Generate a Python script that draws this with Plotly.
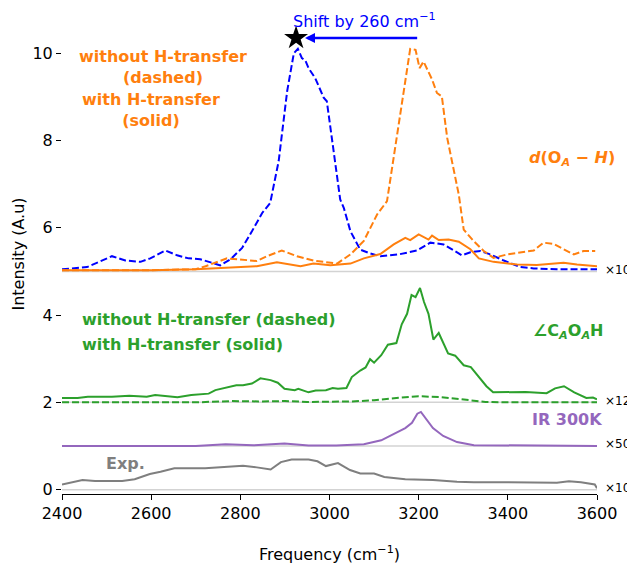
import plotly.graph_objects as go

# ---------------- data ----------------
# d(O_A - H), without H-transfer (blue dashed, shifted)
blue_freq = [2400, 2456, 2512, 2542, 2576, 2598, 2632, 2658, 2684, 2710, 2736, 2755, 2778, 2804, 2826,
             2849, 2867, 2886, 2905, 2920, 2929, 2938, 2946, 2953, 2968, 2987, 2994, 3002, 3013, 3024,
             3032, 3047, 3069, 3092, 3114, 3155, 3196, 3226, 3256, 3279, 3297, 3316, 3338, 3361, 3391,
             3428, 3458, 3510, 3600]
blue_int = [5.05, 5.10, 5.35, 5.25, 5.22, 5.30, 5.48, 5.37, 5.30, 5.28, 5.20, 5.14, 5.28, 5.54, 5.92,
            6.34, 6.57, 7.53, 9.13, 10.0, 10.1, 9.89, 9.83, 9.66, 9.43, 8.98, 8.90, 8.29, 7.50, 6.65,
            6.46, 5.92, 5.50, 5.41, 5.35, 5.39, 5.48, 5.66, 5.62, 5.48, 5.37, 5.44, 5.47, 5.39, 5.25,
            5.10, 5.07, 5.05, 5.05]

# d(O_A - H), without H-transfer (orange dashed)
orange_dash_freq = [2400, 2500, 2600, 2700, 2722, 2770, 2837, 2860, 2893, 2927, 2964, 3017, 3047, 3077,
                    3107, 3129, 3151, 3170, 3181, 3193, 3202, 3211, 3230, 3241, 3252, 3264, 3279, 3290,
                    3301, 3323, 3346, 3368, 3398, 3428, 3458, 3480, 3503, 3525, 3548, 3570, 3596]
orange_dash_int = [5.03, 5.03, 5.03, 5.05, 5.12, 5.30, 5.24, 5.35, 5.48, 5.35, 5.25, 5.18, 5.39, 5.70,
                   6.31, 6.61, 8.06, 9.36, 10.1, 10.08, 9.66, 9.81, 9.40, 9.09, 9.01, 8.06, 7.30, 6.76,
                   5.96, 5.70, 5.47, 5.31, 5.39, 5.43, 5.48, 5.66, 5.63, 5.51, 5.39, 5.47, 5.47]

# d(O_A - H), with H-transfer (orange solid)
orange_solid_freq = [2400, 2500, 2600, 2700, 2770, 2837, 2882, 2935, 2964, 3002, 3047, 3077, 3114, 3144,
                     3170, 3181, 3200, 3222, 3230, 3245, 3267, 3290, 3316, 3335, 3368, 3421, 3465, 3525,
                     3555, 3600]
orange_solid_int = [5.03, 5.03, 5.03, 5.05, 5.09, 5.12, 5.21, 5.12, 5.18, 5.14, 5.18, 5.30, 5.40, 5.62,
                    5.77, 5.72, 5.85, 5.73, 5.82, 5.72, 5.73, 5.68, 5.51, 5.30, 5.22, 5.16, 5.15, 5.20,
                    5.16, 5.12]

# angle C_A O_A H, with H-transfer (green solid)
green_solid_freq = [2400, 2435, 2458, 2512, 2551, 2590, 2609, 2659, 2690, 2729, 2744, 2768, 2791, 2806,
                    2826, 2845, 2868, 2884, 2899, 2922, 2930, 2953, 2969, 2992, 3007, 3019, 3038, 3050,
                    3069, 3081, 3091, 3100, 3116, 3131, 3150, 3162, 3174, 3184, 3193, 3203, 3212, 3222,
                    3233, 3245, 3255, 3266, 3282, 3301, 3317, 3336, 3352, 3367, 3402, 3440, 3487, 3506,
                    3526, 3549, 3576, 3591, 3600]
green_solid_int = [2.10, 2.10, 2.13, 2.13, 2.15, 2.13, 2.17, 2.12, 2.17, 2.20, 2.28, 2.33, 2.39, 2.39,
                   2.43, 2.55, 2.51, 2.45, 2.31, 2.28, 2.31, 2.23, 2.27, 2.28, 2.33, 2.31, 2.33, 2.58,
                   2.73, 2.80, 2.99, 2.91, 3.08, 3.32, 3.36, 3.79, 4.03, 4.46, 4.41, 4.62, 4.30, 4.03,
                   3.44, 3.59, 3.36, 3.12, 3.07, 2.85, 2.81, 2.57, 2.37, 2.23, 2.24, 2.24, 2.21, 2.32,
                   2.37, 2.23, 2.10, 2.11, 2.07]

# angle C_A O_A H, without H-transfer (green dashed)
green_dash_freq = [2400, 2550, 2700, 2780, 2850, 2900, 2950, 3050, 3100, 3150, 3200, 3250, 3300, 3350,
                   3400, 3500, 3600]
green_dash_int = [2.0, 2.0, 2.0, 2.03, 2.02, 2.03, 2.01, 2.02, 2.05, 2.10, 2.14, 2.12, 2.06, 2.01,
                  2.0, 2.0, 2.0]

# IR 300K (purple)
ir_freq = [2400, 2550, 2700, 2767, 2829, 2899, 2953, 3015, 3077, 3116, 3146, 3170, 3185, 3197, 3205,
           3212, 3232, 3255, 3286, 3324, 3402, 3495, 3600]
ir_int = [1.0, 1.0, 1.0, 1.04, 1.015, 1.06, 1.01, 1.01, 1.04, 1.13, 1.28, 1.41, 1.53, 1.74, 1.78,
          1.69, 1.41, 1.23, 1.09, 1.02, 1.01, 1.015, 1.0]

# Experiment (gray)
exp_freq = [2400, 2416, 2446, 2474, 2535, 2563, 2597, 2621, 2652, 2721, 2806, 2837, 2868, 2891, 2915,
            2953, 2973, 2992, 3019, 3046, 3069, 3100, 3123, 3170, 3232, 3286, 3324, 3402, 3510, 3537,
            3564, 3595, 3600]
exp_int = [0.12, 0.16, 0.22, 0.20, 0.20, 0.24, 0.36, 0.41, 0.49, 0.49, 0.55, 0.51, 0.46, 0.63, 0.69,
           0.69, 0.65, 0.54, 0.61, 0.45, 0.37, 0.37, 0.29, 0.24, 0.22, 0.18, 0.17, 0.17, 0.16, 0.19,
           0.17, 0.12, 0.03]

baselines = [5, 2, 1, 0]
scale_labels = ["×10", "×120", "×50", "×10"]

star_freq = [2925]
star_int = [10.35]
arrow_from = 3200
arrow_to = 2945

x_ticks = [2400, 2600, 2800, 3000, 3200, 3400, 3600]
y_ticks = [0, 2, 4, 6, 8, 10]

ORANGE = "#ff7f0e"
BLUE = "#0000ff"
GREEN = "#2ca02c"
PURPLE = "#9467bd"
GRAY = "#7f7f7f"
FONT = "DejaVu Sans"

fig = go.Figure()

# baselines
for b in baselines:
    fig.add_trace(go.Scatter(x=[x_ticks[0], x_ticks[-1]], y=[b, b], mode="lines",
                             line=dict(color="#d3d3d3", width=1.5), hoverinfo="skip", showlegend=False))

dash = "7px,3px"
fig.add_trace(go.Scatter(x=blue_freq, y=blue_int, mode="lines",
                         line=dict(color=BLUE, width=2, dash=dash), showlegend=False))
fig.add_trace(go.Scatter(x=orange_dash_freq, y=orange_dash_int, mode="lines",
                         line=dict(color=ORANGE, width=2, dash=dash), showlegend=False))
fig.add_trace(go.Scatter(x=orange_solid_freq, y=orange_solid_int, mode="lines",
                         line=dict(color=ORANGE, width=2), showlegend=False))
fig.add_trace(go.Scatter(x=green_dash_freq, y=green_dash_int, mode="lines",
                         line=dict(color=GREEN, width=2, dash=dash), showlegend=False))
fig.add_trace(go.Scatter(x=green_solid_freq, y=green_solid_int, mode="lines",
                         line=dict(color=GREEN, width=2), showlegend=False))
fig.add_trace(go.Scatter(x=ir_freq, y=ir_int, mode="lines",
                         line=dict(color=PURPLE, width=2), showlegend=False))
fig.add_trace(go.Scatter(x=exp_freq, y=exp_int, mode="lines",
                         line=dict(color=GRAY, width=2), showlegend=False))
fig.add_trace(go.Scatter(x=star_freq, y=star_int, mode="markers",
                         marker=dict(symbol="star", size=18, color="black"), showlegend=False,
                         cliponaxis=False))

ann = []
def txt(x, y, s, color, size=16, bold=True, xanchor="center", yanchor="middle", xref="x"):
    ann.append(dict(x=x, y=y, xref=xref, yref="y", text=(f"<b>{s}</b>" if bold else s),
                    showarrow=False, xanchor=xanchor, yanchor=yanchor, align="center",
                    font=dict(family=FONT, size=size, color=color)))

txt(2626, 9.69, "without H-transfer<br>(dashed)", ORANGE)
txt(2599, 8.69, "with H-transfer<br>(solid)", ORANGE)
txt(3543, 7.60, "<i>d</i>(O<sub><i>A</i></sub> − <i>H</i>)", ORANGE, size=16)
txt(2441, 3.89, "without H-transfer (dashed)", GREEN, xanchor="left")
txt(2441, 3.32, "with H-transfer (solid)", GREEN, xanchor="left")
txt(3534, 3.62, "∠C<sub><i>A</i></sub>O<sub><i>A</i></sub>H", GREEN, size=16)
txt(3532, 1.60, "IR 300K", PURPLE)
txt(2542, 0.60, "Exp.", GRAY)
txt(3078, 10.76, "Shift by 260 cm<sup>−1</sup>", BLUE, bold=False)
for b, lab in zip(baselines, scale_labels):
    txt(1.012, b + 0.04, lab, "black", size=12, bold=False, xanchor="left", xref="paper")

ann.append(dict(x=arrow_to, y=star_int[0], ax=arrow_from, ay=star_int[0], xref="x", yref="y",
                axref="x", ayref="y", showarrow=True, arrowhead=2, arrowsize=0.8,
                arrowwidth=2.5, arrowcolor=BLUE, text=""))

fig.update_layout(
    width=627, height=556,
    margin=dict(l=54, r=38, t=6, b=70),
    paper_bgcolor="white", plot_bgcolor="white",
    font=dict(family=FONT, size=16, color="black"),
    annotations=ann,
    xaxis=dict(range=[2400, 3600], tickvals=x_ticks, showgrid=False, zeroline=False,
               showline=True, linecolor="black", linewidth=1.2, ticks="outside", ticklen=5,
               tickcolor="black", tickfont=dict(size=16), automargin=False,
               title=dict(text="Frequency (cm<sup>−1</sup>)", font=dict(size=16), standoff=28)),
    yaxis=dict(range=[-0.1, 10.9], tickvals=y_ticks, showgrid=False, zeroline=False,
               showline=False, ticks="outside", ticklen=5, tickcolor="black",
               tickfont=dict(size=16), automargin=False,
               title=dict(text="Intensity (A.u)", font=dict(size=16), standoff=3)),
)

fig.write_html("out.html")
